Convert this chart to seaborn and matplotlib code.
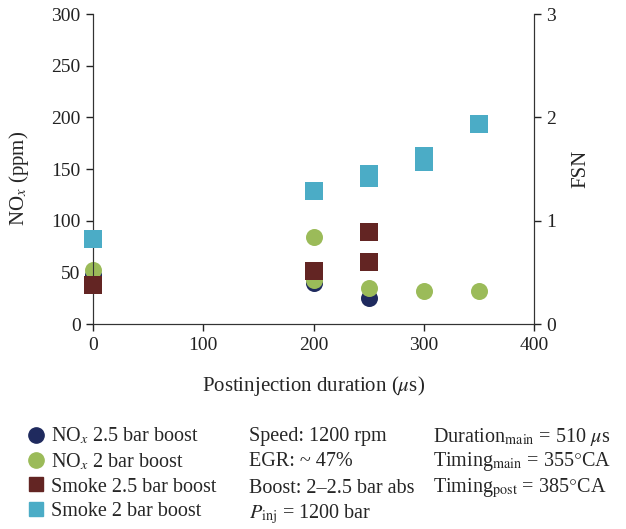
import seaborn as sns
import matplotlib.pyplot as plt
from matplotlib.lines import Line2D

# NOx (ppm, left axis)
nox25_x = [0, 200, 250]
nox25_y = [47, 40, 25]
nox2_x = [0, 200, 200, 250, 300, 350]
nox2_y = [52, 84, 43, 35, 32, 32]
# smoke (FSN, right axis)
smoke25_x = [0, 200, 250, 250]
smoke25_y = [0.38, 0.51, 0.60, 0.89]
smoke2_x = [0, 200, 250, 250, 300, 300, 350]
smoke2_y = [0.82, 1.29, 1.41, 1.45, 1.57, 1.63, 1.94]

labels = ["NO$_x$ 2.5 bar boost", "NO$_x$ 2 bar boost",
          "Smoke 2.5 bar boost", "Smoke 2 bar boost"]
colors = ["#1f2a5e", "#9bbb59", "#632523", "#4bacc6"]

sns.set_style("ticks")
plt.rcParams['font.family'] = ['Liberation Serif', 'DejaVu Serif']
plt.rcParams['mathtext.fontset'] = 'stix'

fig = plt.figure(figsize=(6.26, 5.29), dpi=100)
ax = fig.add_axes([0.1486, 0.3875, 0.7044, 0.586])
ax2 = ax.twinx()

ms = 150
sns.scatterplot(x=nox25_x, y=nox25_y, ax=ax, color=colors[0], marker="o", s=ms, linewidth=0, clip_on=False, zorder=3)
sns.scatterplot(x=nox2_x, y=nox2_y, ax=ax, color=colors[1], marker="o", s=ms, linewidth=0, clip_on=False, zorder=4)
sns.scatterplot(x=smoke25_x, y=smoke25_y, ax=ax2, color=colors[2], marker="s", s=ms, linewidth=0, clip_on=False, zorder=3)
sns.scatterplot(x=smoke2_x, y=smoke2_y, ax=ax2, color=colors[3], marker="s", s=ms, linewidth=0, clip_on=False, zorder=4)

ax.set_xlim(0, 400)
ax.set_ylim(0, 300)
ax2.set_ylim(0, 3)
ax.set_xticks([0, 100, 200, 300, 400])
ax.set_yticks(range(0, 301, 50))
ax2.set_yticks([0, 1, 2, 3])
ax.set_xlabel("Postinjection duration ($\\mu$s)", fontsize=15)
ax.set_ylabel("NO$_x$ (ppm)", fontsize=15)
ax2.set_ylabel("FSN", fontsize=15)
ax.yaxis.set_label_coords(-0.14, 0.47)
ax2.yaxis.set_label_coords(1.085, 0.5)
ax.xaxis.set_label_coords(0.5, -0.16)
for a in (ax, ax2):
    a.tick_params(labelsize=14, direction="out", length=5, width=1, colors="#222222", pad=4)
    a.spines["top"].set_visible(False)
    for s in a.spines.values():
        s.set_color("#333333")
ax2.spines["right"].set_visible(True)

handles = [
    Line2D([], [], marker="o", linestyle="", color=colors[0], markersize=11),
    Line2D([], [], marker="o", linestyle="", color=colors[1], markersize=11),
    Line2D([], [], marker="s", linestyle="", color=colors[2], markersize=10),
    Line2D([], [], marker="s", linestyle="", color=colors[3], markersize=10),
]
fig.legend(handles, labels, loc="upper left", bbox_to_anchor=(0.028, 0.21),
           frameon=False, fontsize=14.5, handletextpad=0.25, labelspacing=0.25,
           handlelength=1.0, borderaxespad=0)

rows = [0.174, 0.1267, 0.0775, 0.0284]
col2 = ["Speed: 1200 rpm", "EGR: ~ 47%", "Boost: 2\u20132.5 bar abs",
        "$P_{\\mathrm{inj}}$ = 1200 bar"]
col3 = ["Duration$_{\\mathrm{main}}$ = 510 $\\mu$s",
        "Timing$_{\\mathrm{main}}$ = 355$\\degree$CA",
        "Timing$_{\\mathrm{post}}$ = 385$\\degree$CA"]
for y, t in zip(rows, col2):
    fig.text(0.398, y, t, fontsize=14.5, va="center")
for y, t in zip(rows, col3):
    fig.text(0.692, y, t, fontsize=14.5, va="center")

fig.savefig("out.png", dpi=100)
